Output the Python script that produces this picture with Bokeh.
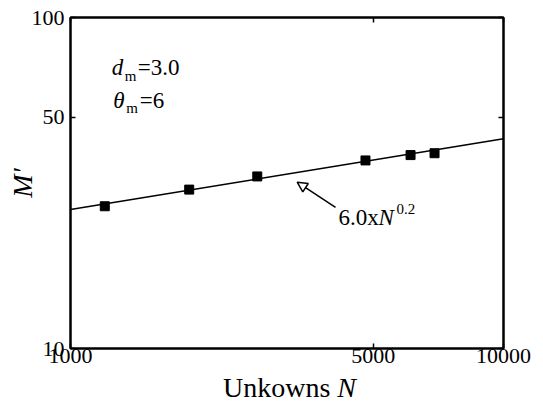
import math
from bokeh.plotting import figure
from bokeh.layouts import column
from bokeh.models import (LogAxis, FixedTicker, NumeralTickFormatter, Label,
                          Arrow, NormalHead, Range1d, Div)
from bokeh.embed import file_html
from bokeh.resources import INLINE

# data
unknowns_N = [1200, 1880, 2700, 4800, 6100, 6930]
M_prime = [26.9, 30.2, 33.1, 37.0, 38.4, 38.9]
fit_N = [1000, 10000]
fit_M = [26.3, 43.0]
x_ticks = [1000, 5000, 10000]
y_ticks = [10, 50, 100]

FONT = "Liberation Serif"

p = figure(width=543, height=373, x_axis_type="log", y_axis_type="log",
           x_range=Range1d(1000, 10000), y_range=Range1d(10, 100),
           output_backend="svg", toolbar_location=None,
           min_border_left=70, min_border_right=40, min_border_top=17,
           min_border_bottom=25)
p.grid.visible = False
p.outline_line_color = "black"
p.outline_line_width = 2
p.background_fill_color = "white"
p.border_fill_color = "white"

for ax, ticks in ((p.xaxis[0], x_ticks), (p.yaxis[0], y_ticks)):
    ax.ticker = FixedTicker(ticks=ticks, minor_ticks=[])
    ax.formatter = NumeralTickFormatter(format="0")
    ax.major_tick_in = 5
    ax.major_tick_out = 0
    ax.minor_tick_line_color = None
    ax.axis_line_width = 2
    ax.major_tick_line_width = 1.5
    ax.major_label_text_font = FONT
    ax.major_label_text_font_size = "22px"
    ax.major_label_text_color = "black"
p.xaxis[0].major_label_standoff = 0
p.yaxis[0].major_label_standoff = 6
p.yaxis[0].axis_label = "M'"
p.yaxis[0].axis_label_text_font = FONT
p.yaxis[0].axis_label_text_font_size = "28px"
p.yaxis[0].axis_label_text_font_style = "italic"
p.yaxis[0].axis_label_text_color = "black"
p.yaxis[0].axis_label_standoff = -9

for loc, ticks in (("above", x_ticks), ("right", y_ticks)):
    ax = LogAxis(ticker=FixedTicker(ticks=ticks, minor_ticks=[]),
                 major_tick_in=5, major_tick_out=0, minor_tick_line_color=None,
                 axis_line_width=2, major_tick_line_width=1.5,
                 major_label_text_color=None, major_label_text_font_size="10px",
                 major_label_standoff=0)
    p.add_layout(ax, loc)

p.line(fit_N, fit_M, line_color="black", line_width=1.6)
p.scatter(unknowns_N, M_prime, marker="square", size=9, color="black")

def lab(x, y, text, size, style="normal"):
    p.add_layout(Label(x=x, y=y, text=text, text_font=FONT,
                       text_font_size=size, text_font_style=style,
                       text_color="black", text_baseline="alphabetic",
                       text_align="left", y_offset=7))

# parameter annotations
lab(1245, 67.3, "d", "23px", "italic")
lab(1335, 63.5, "m", "15px")
lab(1430, 67.3, "=3.0", "23px")
lab(1255, 53.5, "θ", "23px", "italic")
lab(1345, 50.9, "m", "15px")
lab(1445, 53.5, "=6", "23px")

# fit annotation
p.add_layout(Arrow(end=NormalHead(size=10, fill_color="white", line_color="black",
                                  line_width=1.5),
                   x_start=4093, y_start=26.7, x_end=3338, y_end=31.8,
                   line_color="black", line_width=1.5))
lab(4159, 23.7, "6.0x", "23px")
lab(5144, 23.7, "N", "23px", "italic")
lab(5661, 25.2, "0.2", "15px")

xlabel = Div(text=("<span style=\"font-family:'Liberation Serif',serif;"
                   "font-size:28px;color:black;white-space:nowrap\">"
                   "Unkowns <i>N</i></span>"),
             width=543, height=32, margin=(0, 0, 0, 0),
             styles={"font-family": "'Liberation Serif', serif",
                     "font-size": "28px", "line-height": "30px",
                     "padding-left": "223px", "color": "black"})

layout = column(p, xlabel, spacing=0)
open("out.html", "w").write(file_html(layout, INLINE))
